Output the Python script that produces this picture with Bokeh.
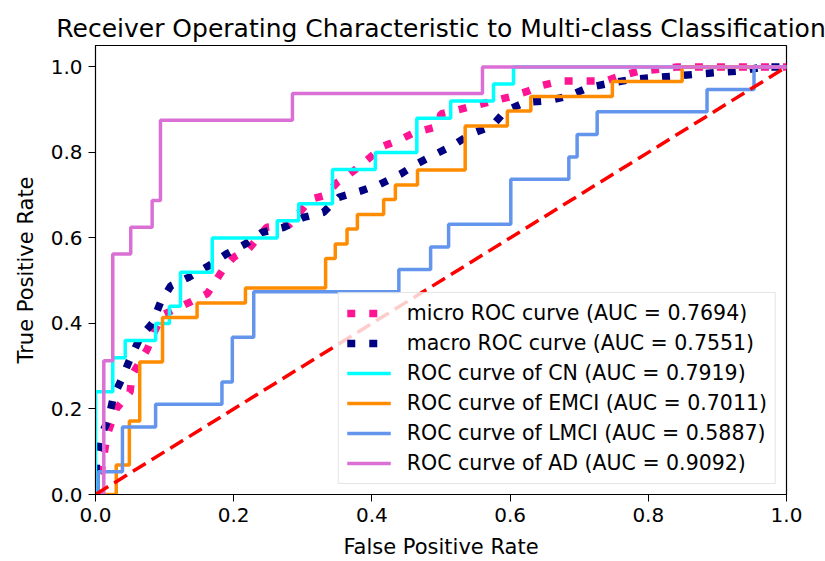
from bokeh.plotting import figure
from bokeh.models import Range1d, Legend, LegendItem, FixedTicker, NumeralTickFormatter
from bokeh.embed import file_html
from bokeh.resources import INLINE

# ---- data: ROC points (false positive rate, true positive rate) ----
micro_fpr = [0.0, 0.0, 0.008, 0.017, 0.03, 0.05, 0.053, 0.075, 0.085, 0.097, 0.137, 0.162,
             0.174, 0.186, 0.2, 0.222, 0.248, 0.28, 0.311, 0.333, 0.35, 0.364, 0.384, 0.417,
             0.441, 0.461, 0.494, 0.5, 0.526, 0.55, 0.6, 0.627, 0.647, 0.673, 0.738, 0.76,
             0.786, 0.818, 0.842, 1.0]
micro_tpr = [0.0, 0.03, 0.05, 0.14, 0.2, 0.24, 0.28, 0.34, 0.38, 0.42, 0.45, 0.47,
             0.5, 0.53, 0.555, 0.575, 0.625, 0.63, 0.69, 0.70, 0.73, 0.745, 0.77, 0.815,
             0.83, 0.846, 0.86, 0.89, 0.90, 0.91, 0.93, 0.944, 0.957, 0.967, 0.967, 0.979,
             0.99, 0.995, 1.0, 1.0]

macro_fpr = [0.0, 0.0, 0.002, 0.006, 0.019, 0.026, 0.039, 0.051, 0.065, 0.082, 0.094, 0.109,
             0.135, 0.164, 0.189, 0.217, 0.241, 0.273, 0.301, 0.33, 0.352, 0.384, 0.412,
             0.441, 0.465, 0.492, 0.516, 0.543, 0.574, 0.593, 0.622, 0.655, 0.685, 0.714,
             0.745, 0.777, 0.808, 0.842, 0.871, 0.902, 0.936, 0.967, 1.0]
macro_tpr = [0.0, 0.04, 0.083, 0.13, 0.177, 0.229, 0.274, 0.321, 0.368, 0.40, 0.449, 0.488,
             0.508, 0.535, 0.562, 0.586, 0.613, 0.625, 0.648, 0.66, 0.695, 0.71, 0.726,
             0.749, 0.773, 0.796, 0.815, 0.843, 0.862, 0.897, 0.917, 0.921, 0.932, 0.952,
             0.962, 0.971, 0.975, 0.979, 0.983, 0.987, 0.991, 1.0, 1.0]

cn_fpr = [0.0, 0.0, 0.025, 0.025, 0.043, 0.043, 0.087, 0.087, 0.107, 0.107, 0.123, 0.123,
          0.169, 0.169, 0.263, 0.263, 0.294, 0.294, 0.343, 0.343, 0.405, 0.405, 0.465,
          0.465, 0.514, 0.514, 0.576, 0.576, 0.605, 0.605, 1.0]
cn_tpr = [0.0, 0.24, 0.24, 0.32, 0.32, 0.36, 0.36, 0.40, 0.40, 0.44, 0.44, 0.52,
          0.52, 0.60, 0.60, 0.64, 0.64, 0.68, 0.68, 0.76, 0.76, 0.80, 0.80,
          0.88, 0.88, 0.92, 0.92, 0.96, 0.96, 1.0, 1.0]

emci_fpr = [0.0, 0.030, 0.030, 0.049, 0.049, 0.064, 0.064, 0.097, 0.097, 0.147, 0.147,
            0.217, 0.217, 0.333, 0.333, 0.347, 0.347, 0.364, 0.364, 0.379, 0.379, 0.417,
            0.417, 0.434, 0.434, 0.466, 0.466, 0.535, 0.535, 0.596, 0.596, 0.630, 0.630,
            0.748, 0.748, 0.849, 0.849, 1.0]
emci_tpr = [0.0, 0.0, 0.069, 0.069, 0.172, 0.172, 0.310, 0.310, 0.414, 0.414, 0.448,
            0.448, 0.483, 0.483, 0.552, 0.552, 0.586, 0.586, 0.621, 0.621, 0.655, 0.655,
            0.690, 0.690, 0.724, 0.724, 0.759, 0.759, 0.862, 0.862, 0.897, 0.897, 0.931,
            0.931, 0.966, 0.966, 1.0, 1.0]

lmci_fpr = [0.0, 0.004, 0.004, 0.039, 0.039, 0.087, 0.087, 0.183, 0.183, 0.198, 0.198,
            0.229, 0.229, 0.439, 0.439, 0.485, 0.485, 0.511, 0.511, 0.601, 0.601, 0.685,
            0.685, 0.697, 0.697, 0.726, 0.726, 0.885, 0.885, 0.953, 0.953, 1.0]
lmci_tpr = [0.0, 0.0, 0.053, 0.053, 0.158, 0.158, 0.211, 0.211, 0.263, 0.263, 0.368,
            0.368, 0.474, 0.474, 0.526, 0.526, 0.579, 0.579, 0.632, 0.632, 0.737, 0.737,
            0.789, 0.789, 0.842, 0.842, 0.895, 0.895, 0.947, 0.947, 1.0, 1.0]

ad_fpr = [0.0, 0.012, 0.012, 0.025, 0.025, 0.051, 0.051, 0.082, 0.082, 0.094, 0.094,
          0.285, 0.285, 0.56, 0.56, 1.0]
ad_tpr = [0.0, 0.0, 0.3125, 0.3125, 0.5625, 0.5625, 0.625, 0.625, 0.6875, 0.6875, 0.875,
          0.875, 0.9375, 0.9375, 1.0, 1.0]

chance_x = [0.0, 1.0]
chance_y = [0.0, 1.0]

labels = [
    "micro ROC curve (AUC = 0.7694)",
    "macro ROC curve (AUC = 0.7551)",
    "ROC curve of CN (AUC = 0.7919)",
    "ROC curve of EMCI (AUC = 0.7011)",
    "ROC curve of LMCI (AUC = 0.5887)",
    "ROC curve of AD (AUC = 0.9092)",
]
tick_values = [0.0, 0.2, 0.4, 0.6, 0.8, 1.0]

FONT = "DejaVu Sans"

p = figure(width=825, height=561, output_backend="svg", toolbar_location=None,
           x_range=Range1d(0.0, 1.0), y_range=Range1d(0.0, 1.05),
           min_border_left=95, min_border_right=39, min_border_top=45, min_border_bottom=67)

p.title.text = "Receiver Operating Characteristic to Multi-class Classification"
p.title.text_font = FONT
p.title.text_font_size = "25px"
p.title.text_font_style = "normal"
p.title.text_color = "black"
p.title.align = "center"
p.title.standoff = 6

p.xgrid.visible = False
p.ygrid.visible = False
p.outline_line_color = "black"
p.outline_line_width = 1.2
p.background_fill_color = "white"
p.border_fill_color = "white"

for ax in (p.xaxis[0], p.yaxis[0]):
    ax.ticker = FixedTicker(ticks=tick_values)
    ax.formatter = NumeralTickFormatter(format="0.0")
    ax.major_label_text_font = FONT
    ax.major_label_text_font_size = "20px"
    ax.major_label_text_color = "black"
    ax.axis_label_text_font = FONT
    ax.axis_label_text_font_size = "21px"
    ax.axis_label_text_font_style = "normal"
    ax.axis_label_text_color = "black"
    ax.axis_line_color = "black"
    ax.major_tick_line_color = "black"
    ax.major_tick_out = 7
    ax.major_tick_in = 0
    ax.minor_tick_line_color = None
    ax.major_label_standoff = 6
    ax.axis_label_standoff = 10

p.xaxis.axis_label = "False Positive Rate"
p.yaxis.axis_label = "True Positive Rate"

r_micro = p.line(micro_fpr, micro_tpr, color="deeppink", line_width=7.5,
                 line_dash="8 14", line_cap="butt")
r_macro = p.line(macro_fpr, macro_tpr, color="navy", line_width=7.5,
                 line_dash="8 14", line_cap="butt")
r_cn = p.line(cn_fpr, cn_tpr, color="aqua", line_width=3.5)
r_emci = p.line(emci_fpr, emci_tpr, color="darkorange", line_width=3.5)
r_lmci = p.line(lmci_fpr, lmci_tpr, color="cornflowerblue", line_width=3.5)
r_ad = p.line(ad_fpr, ad_tpr, color="orchid", line_width=3.5)
p.line(chance_x, chance_y, color="red", line_width=3.5, line_dash="15 7")

renderers = [r_micro, r_macro, r_cn, r_emci, r_lmci, r_ad]
legend = Legend(items=[LegendItem(label=lab, renderers=[r]) for lab, r in zip(labels, renderers)],
                location="bottom_right", margin=10, padding=8, spacing=6,
                glyph_width=44, glyph_height=24, label_height=24, label_standoff=16,
                label_text_font=FONT, label_text_font_size="20.5px", label_text_color="black",
                background_fill_color="white", background_fill_alpha=0.8,
                border_line_color="#cccccc", border_line_width=1)
p.add_layout(legend)

open("out.html", "w").write(file_html(p, INLINE))
